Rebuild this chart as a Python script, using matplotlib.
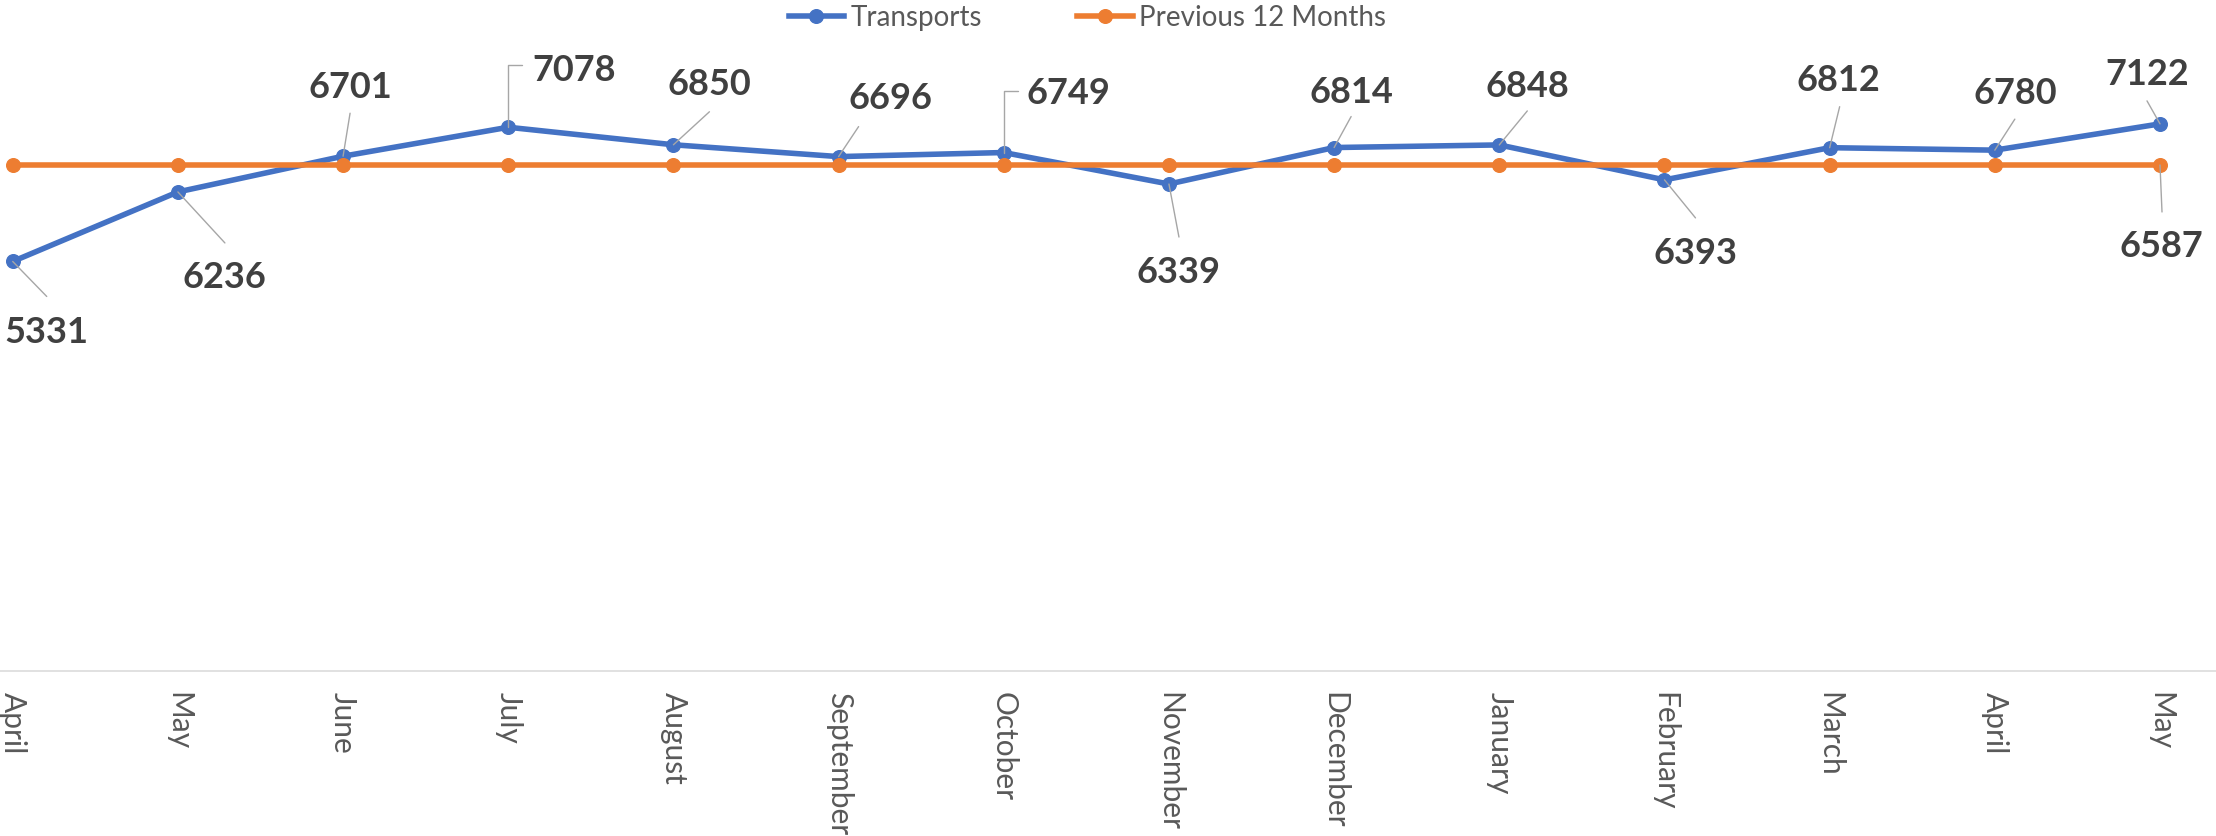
import matplotlib.pyplot as plt

# chart data
months = ['April', 'May', 'June', 'July', 'August', 'September', 'October',
          'November', 'December', 'January', 'February', 'March', 'April', 'May']
transports = [5331, 6236, 6701, 7078, 6850, 6696, 6749,
              6339, 6814, 6848, 6393, 6812, 6780, 7122]
previous_12 = [6587, 6587, 6587, 6587, 6587, 6587, 6587,
               6587, 6587, 6587, 6587, 6587, 6587, 6587]

BLUE = '#4472C4'
ORANGE = '#ED7D31'
LEADER = '#A6A6A6'

plt.rcParams['font.family'] = ['Lato', 'DejaVu Sans']

fig = plt.figure(figsize=(22.16, 8.36), dpi=100)
ax = fig.add_axes([0, 0.1974, 1, 0.7351])

x = list(range(len(months)))
ax.plot(x, transports, color=BLUE, lw=4.0, marker='o', ms=9.8, label='Transports', zorder=3)
ax.plot(x, previous_12, color=ORANGE, lw=4.0, marker='o', ms=9.8, label='Previous 12 Months', zorder=4)

ax.set_ylim(0, 8000)
ax.set_xlim(-0.077, 13.339)

# label placement in pixels relative to each point (label centre, leader end)
text_off = [(34, -71), (47, -86), (7, 69), (66, 57), (36, 60), (52, 58), (65, 59),
            (10, -88), (17, 55), (28, 58), (31, -74), (9, 67), (20, 57), (-13, 49)]
lead_off = [(34, -35), (47, -51), (7, 43), None, (36, 33), (20, 30), None,
            (10, -53), (17, 31), (28, 34), (31, -38), (10, 41), (20, 31), (-13, 23)]

for i, v in enumerate(transports):
    if lead_off[i] is None:
        # elbow leader: up from the point, then right towards the label
        ax.annotate('', xy=(i, v), xytext=(14, 62), textcoords='offset pixels',
                    arrowprops=dict(arrowstyle='-', color=LEADER, lw=1.0,
                                    connectionstyle='angle,angleA=0,angleB=90,rad=0',
                                    shrinkA=0, shrinkB=0), zorder=5)
    else:
        ax.annotate('', xy=(i, v), xytext=lead_off[i], textcoords='offset pixels',
                    arrowprops=dict(arrowstyle='-', color=LEADER, lw=1.0,
                                    shrinkA=0, shrinkB=0), zorder=5)
    ax.annotate(str(v), xy=(i, v), xytext=text_off[i], textcoords='offset pixels',
                ha='center', va='center', fontsize=26, fontweight='bold',
                color='#404040', zorder=6)

# only the last point of the previous-12-months series is labelled
last = len(previous_12) - 1
ax.annotate('', xy=(last, previous_12[last]), xytext=(2, -47), textcoords='offset pixels',
            arrowprops=dict(arrowstyle='-', color=LEADER, lw=1.0, shrinkA=0, shrinkB=0), zorder=5)
ax.annotate(str(previous_12[last]), xy=(last, previous_12[last]), xytext=(1, -82),
            textcoords='offset pixels', ha='center', va='center', fontsize=26,
            fontweight='bold', color='#404040', zorder=6)

# axes styling
for side in ['top', 'left', 'right']:
    ax.spines[side].set_visible(False)
ax.spines['bottom'].set_color('#D9D9D9')
ax.spines['bottom'].set_linewidth(1.1)
ax.set_yticks([])
ax.set_xticks(x)
ax.set_xticklabels(months, rotation=-90, va='top', ha='center')
ax.tick_params(axis='x', length=0, pad=15, labelsize=21.5, labelcolor='#595959')

ax.legend(loc='center', bbox_to_anchor=(1087.5 / 2216, 1 - 18 / 836),
          bbox_transform=fig.transFigure, ncol=2, frameon=False, fontsize=20,
          handlelength=2.0, handletextpad=0.25, columnspacing=3.4,
          labelcolor='#595959')

fig.savefig('out.png', dpi=100)
